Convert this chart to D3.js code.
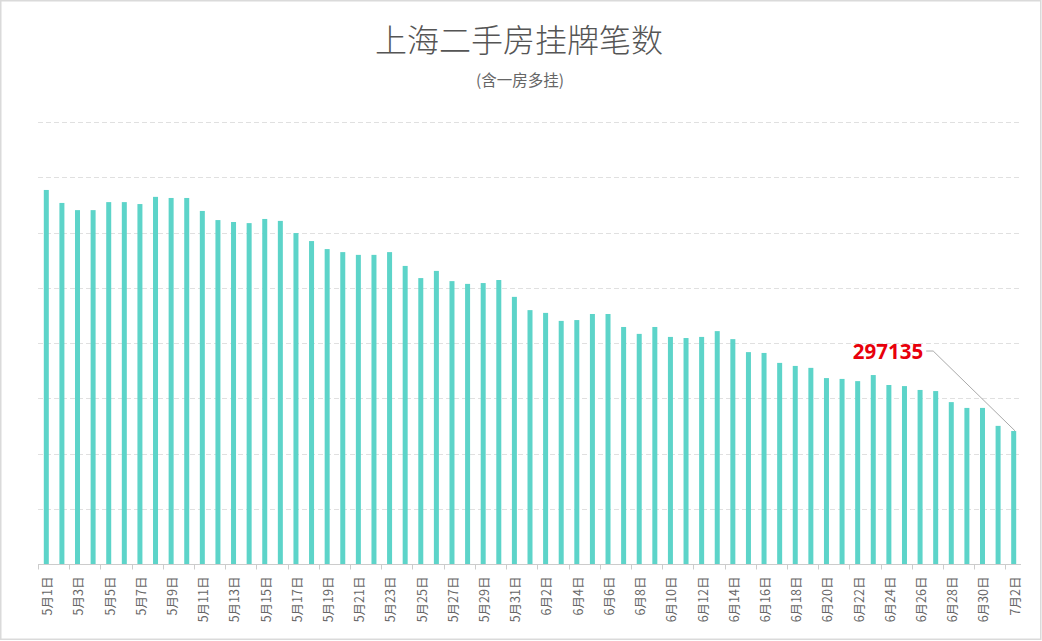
<!DOCTYPE html>
<html>
<head>
<meta charset="utf-8">
<script src="https://cdn.jsdelivr.net/npm/d3@7"></script>
<style>
  html, body { margin: 0; padding: 0; background: #fff; }
  svg { display: block; font-family: "Noto Sans CJK SC", "Noto Sans", sans-serif; }
</style>
</head>
<body>
<div id="chart"></div>
<script>
// Days: 5月1日 .. 7月2日
const months = [5, 6, 7];
const daysInMonth = [31, 30, 2];

// Listings count per day
const listings = [
  384400, 379700, 377100, 377100, 380000, 380000, 379300, 381900, 381500, 381500,
  376800, 373500, 372800, 372400, 373900, 373200, 368800, 365900, 363000, 361900,
  360900, 360900, 361900, 356900, 352500, 355100, 351400, 350400, 350700, 351800,
  345700, 340900, 339900, 337000, 337300, 339500, 339500, 334800, 332300, 334800,
  331200, 330800, 331200, 333300, 330400, 325700, 325400, 321800, 320700, 320000,
  316300, 316000, 315200, 317400, 313800, 313400, 312000, 311600, 307600, 305500,
  305500, 299000, 297135
];

const yDomain = [249000, 409000];
const yTicks = d3.range(249000, 409001, 20000);

const titleText = "上海二手房挂牌笔数";
const subtitleText = "(含一房多挂)";

const dates = months.flatMap((m, i) => d3.range(1, daysInMonth[i] + 1).map((d) => `${m}月${d}日`));
const data = dates.map((date, i) => ({ date, value: listings[i] }));

const width = 1042;
const height = 641;
const margin = { top: 122, right: 21, bottom: 77, left: 38 };

const svg = d3.select("#chart")
  .append("svg")
  .attr("width", width)
  .attr("height", height);

// frame
svg.append("rect")
  .attr("x", 0.75).attr("y", 0.75)
  .attr("width", width - 2).attr("height", height - 2.5)
  .attr("fill", "none")
  .attr("stroke", "#dadada")
  .attr("stroke-width", 1.5);

svg.append("text")
  .attr("x", 519).attr("y", 52)
  .attr("text-anchor", "middle")
  .attr("font-size", 32)
  .attr("font-weight", 300)
  .attr("fill", "#555")
  .text(titleText);

svg.append("text")
  .attr("x", 520).attr("y", 86)
  .attr("text-anchor", "middle")
  .attr("font-size", 15.5)
  .attr("fill", "#666")
  .text(subtitleText);

const x = d3.scaleBand()
  .domain(dates)
  .range([margin.left, width - margin.right]);

const y = d3.scaleLinear()
  .domain(yDomain)
  .range([height - margin.bottom, margin.top]);

// grid
svg.append("g")
  .selectAll("line")
  .data(yTicks.slice(1))
  .join("line")
  .attr("x1", margin.left)
  .attr("x2", width - margin.right)
  .attr("y1", (d) => Math.round(y(d)) + 0.5)
  .attr("y2", (d) => Math.round(y(d)) + 0.5)
  .attr("stroke", "#e0e0e0")
  .attr("stroke-dasharray", "5,3");

// bars
const barWidth = 5;
svg.append("g")
  .selectAll("rect")
  .data(data)
  .join("rect")
  .attr("x", (d) => x(d.date) + x.bandwidth() / 2 - barWidth / 2 + 0.5)
  .attr("width", barWidth)
  .attr("y", (d) => y(d.value))
  .attr("height", (d) => y(yDomain[0]) - y(d.value))
  .attr("fill", "#5dd4c9");

// x axis
const labelled = dates.filter((d, i) => i % 2 === 0);
const axis = svg.append("g")
  .attr("transform", `translate(0,${Math.round(y(yDomain[0])) + 0.5})`);

axis.append("line")
  .attr("x1", margin.left)
  .attr("x2", width - margin.right)
  .attr("stroke", "#ccc");

axis.selectAll(".tick")
  .data(labelled)
  .join("line")
  .attr("class", "tick")
  .attr("x1", (d) => Math.round(x(d)) + 0.5)
  .attr("x2", (d) => Math.round(x(d)) + 0.5)
  .attr("y1", 0)
  .attr("y2", 5)
  .attr("stroke", "#ccc");

axis.selectAll(".label")
  .data(labelled)
  .join("text")
  .attr("class", "label")
  .attr("transform", (d) => `translate(${x(d) + x.bandwidth() / 2 + 2},12)rotate(-90)`)
  .attr("text-anchor", "end")
  .attr("dy", "0.35em")
  .attr("font-size", 12.5)
  .attr("fill", "#666")
  .text((d) => d);

// annotation for last bar
const last = data[data.length - 1];
const lx = x(last.date) + x.bandwidth() / 2;
const ly = y(last.value);

svg.append("polyline")
  .attr("points", [[lx + 2, ly], [lx - 80, ly - 80], [lx - 87, ly - 80]].map((p) => p.join(",")).join(" "))
  .attr("fill", "none")
  .attr("stroke", "#aaa")
  .attr("stroke-width", 1);

svg.append("text")
  .attr("x", lx - 90)
  .attr("y", ly - 72)
  .attr("text-anchor", "end")
  .attr("font-size", 20.5)
  .attr("font-weight", "bold")
  .attr("font-family", "'Noto Sans', sans-serif")
  .attr("fill", "#e8000b")
  .text(d3.format("d")(last.value));
</script>
</body>
</html>
